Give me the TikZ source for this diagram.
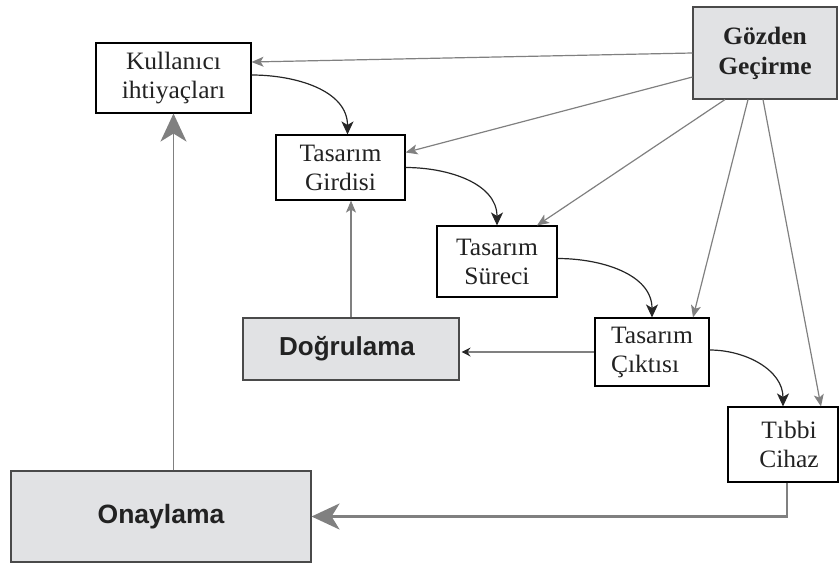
\documentclass[tikz,border=0pt]{standalone}
\usepackage{fontspec}
\setmainfont{Liberation Serif}[FakeStretch=1.02]
\newfontfamily\labelsans{Liberation Sans}
\usetikzlibrary{arrows.meta}

\definecolor{boxgray}{HTML}{E1E2E4}
\definecolor{boxedge}{HTML}{4A4A4A}
\definecolor{linegray}{HTML}{808080}
\definecolor{inkdark}{HTML}{222222}

\tikzset{
  plainbox/.style={draw=black, line width=1.1pt, fill=white, inner sep=0pt,
    align=center, text=inkdark, font=\fontsize{25}{29}\selectfont},
  shadedbox/.style={draw=boxedge, line width=1.1pt, fill=boxgray, inner sep=0pt,
    align=center, text=inkdark},
  reviewarrow/.style={draw=linegray, line width=1.2pt,
    -{Stealth[length=12pt,width=10pt,inset=3pt]}},
  flowarrow/.style={draw=black!85, line width=1.2pt,
    -{Stealth[length=13pt,width=12pt,inset=3.5pt]}},
  bigarrow/.style={draw=linegray, line width=1.8pt,
    -{Stealth[length=28pt,width=26pt,inset=8pt]}},
}

\begin{document}
\begin{tikzpicture}[x=1pt,y=1pt]
\useasboundingbox (0,0) rectangle (839,-565);

% design stages
\node[plainbox, minimum width=155pt, minimum height=70pt] (kul) at (173.5,-78)
  {Kullanıcı\\ihtiyaçları};
\node[plainbox, minimum width=129pt, minimum height=65pt] (gir) at (340.5,-167.5)
  {Tasarım\\Girdisi};
\node[plainbox, minimum width=120pt, minimum height=71pt] (sur) at (497,-261.5)
  {Tasarım\\Süreci};
\node[plainbox, minimum width=114pt, minimum height=68pt, align=left] (cik) at (652,-352)
  {Tasarım\\Çıktısı\hspace*{8pt}};
\node[plainbox, minimum width=110pt, minimum height=75pt] (tib) at (783,-444.5)
  {\hspace*{12pt}Tıbbi\\\hspace*{12pt}Cihaz};

% control activities
\node[shadedbox, minimum width=144pt, minimum height=92pt,
  font=\fontsize{25}{30}\selectfont\bfseries] (goz) at (765,-53)
  {Gözden\\Geçirme};
\node[shadedbox, minimum width=216pt, minimum height=62pt,
  font=\labelsans\fontsize{26}{30}\selectfont\bfseries] (dog) at (351,-349)
  {\hspace*{-8pt}Doğrulama};
\node[shadedbox, minimum width=300pt, minimum height=91pt,
  font=\labelsans\fontsize{26.5}{30}\selectfont\bfseries] (ona) at (161,-516.5)
  {Onaylama};

% review links
\draw[reviewarrow] (goz.west) -- ([yshift=16pt]kul.east);
\draw[reviewarrow] ([yshift=-24pt]goz.west) -- ([yshift=15pt]gir.east);
\draw[reviewarrow] ([xshift=-40pt]goz.south) -- ([xshift=40pt]sur.north);
\draw[reviewarrow] ([xshift=-17pt]goz.south) -- ([xshift=41pt]cik.north);
\draw[reviewarrow] ([xshift=-2pt]goz.south) -- ([xshift=38pt]tib.north);

% design flow
\draw[flowarrow] ([yshift=3pt]kul.east) to[out=0,in=90] ([xshift=7pt]gir.north);
\draw[flowarrow] (gir.east) to[out=0,in=90] (sur.north);
\draw[flowarrow] ([yshift=3pt]sur.east) to[out=0,in=90] (cik.north);
\draw[flowarrow] ([yshift=2pt]cik.east) to[out=0,in=90] (tib.north);

% verification and validation
\draw[draw=linegray, line width=1.2pt,
  -{Stealth[length=9pt,width=9pt,inset=3pt,color=black!85]}]
  (cik.west) -- ([xshift=2pt]cik.west -| dog.east);
\draw[reviewarrow] (dog.north) -- (dog.north |- gir.south);
\draw[bigarrow] (kul.south |- ona.north) -- (kul.south);
\draw[bigarrow, line width=2.6pt] ([xshift=4pt]tib.south) |- (ona.east);
\end{tikzpicture}
\end{document}
